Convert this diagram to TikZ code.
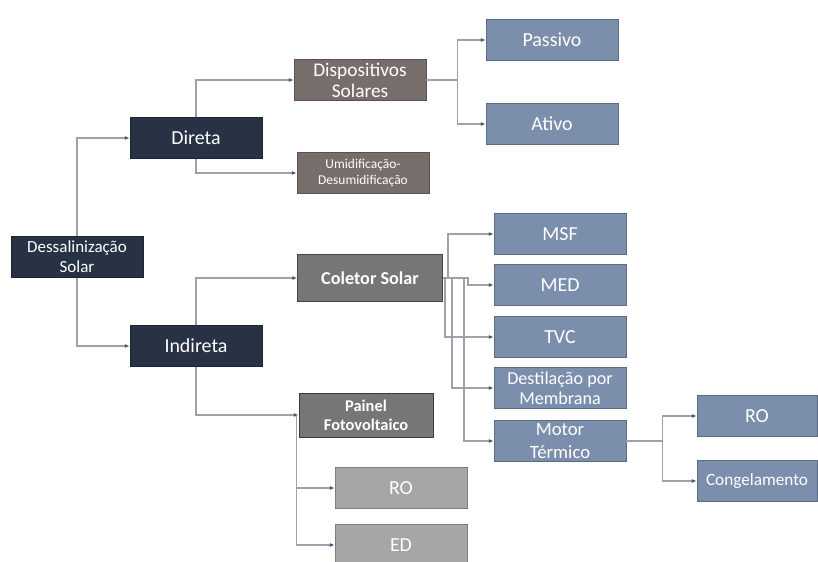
\documentclass[tikz,border=0pt]{standalone}
\usepackage{fontspec}
\setmainfont{Carlito}
\usetikzlibrary{arrows.meta}
\definecolor{navy}{HTML}{273245}
\definecolor{taupe}{HTML}{776E6B}
\definecolor{cinza}{HTML}{777575}
\definecolor{azul}{HTML}{7B8FAD}
\definecolor{claro}{HTML}{A8A5A5}
\definecolor{linha}{HTML}{9EA1AB}
\definecolor{ponta}{HTML}{4A5572}
\begin{document}
\begin{tikzpicture}[x=0.03cm,y=-0.03cm,
    box/.style={draw=#1!75!black,line width=0.8pt,fill=#1,text=white,align=center,
      minimum width=3.96cm,minimum height=1.23cm,inner sep=1pt,
      font=\fontsize{17}{18}\selectfont},
    link/.style={draw=linha,line width=0.9pt,-{Latex[length=4pt,width=3.5pt,color=ponta]}}]
    \useasboundingbox (0,0) rectangle (818,561);
    % niveis 1 e 2
    \node[box=navy,font=\fontsize{14.5}{17}\selectfont] (dess) at (77,257) {Dessalinização\\Solar};
    \node[box=navy] (dir) at (196,138) {Direta};
    \node[box=navy] (ind) at (196,346) {Indireta};
    % direta
    \node[box=taupe,font=\fontsize{16.5}{18}\selectfont] (disp) at (360,80) {Dispositivos\\Solares};
    \node[box=taupe,font=\fontsize{11.5}{13.5}\selectfont] (umid) at (363,173) {Umidificação-\\Desumidificação};
    \node[box=azul] (pas) at (552,40) {Passivo};
    \node[box=azul] (ati) at (552,124) {Ativo};
    % indireta
    \node[box=cinza,draw=cinza!60!black,minimum width=4.35cm,minimum height=1.4cm,font=\bfseries\fontsize{15.5}{17}\selectfont] (col) at (370,278) {Coletor Solar};
    \node[box=cinza,draw=cinza!50!black,minimum width=4.02cm,minimum height=1.32cm,font=\bfseries\fontsize{14}{16}\selectfont] (pain) at (366,415) {Painel\\Fotovoltaico};
    \node[box=azul] (msf) at (560,234) {MSF};
    \node[box=azul] (med) at (560,285) {MED};
    \node[box=azul] (tvc) at (560,337) {TVC};
    \node[box=azul,font=\fontsize{15.5}{17}\selectfont] (mem) at (560,388) {Destilação por\\Membrana};
    \node[box=azul,font=\fontsize{16}{20}\selectfont] (mot) at (560,441) {Motor\\Térmico};
    \node[box=azul,minimum width=3.6cm] (ro) at (757,416) {RO};
    \node[box=azul,minimum width=3.6cm,font=\fontsize{14.7}{17}\selectfont] (cong) at (757,481) {Congelamento};
    \node[box=claro] (rofv) at (401,488) {RO};
    \node[box=claro] (ed) at (401,545) {ED};
    % ligacoes
    \draw[link] (dess.north) |- (dir.west);
    \draw[link] (dess.south) |- (ind.west);
    \draw[link] (dir.north) |- (disp.west);
    \draw[link] (dir.south) |- (umid.west);
    \draw[link] (ind.north) |- (col.west);
    \draw[link] (ind.south) |- (pain.west);
    \draw[link] (disp.east) -- ++(31,0) |- (pas.west);
    \draw[link] (disp.east) -- ++(31,0) |- (ati.west);
    \draw[link] (col.east) -- ++(5,0) |- (msf.west);
    \draw[link] (col.east) -- ++(25,0) |- (med.west);
    \draw[link] (col.east) -- ++(2,0) |- (tvc.west);
    \draw[link] (col.east) -- ++(9,0) |- (mem.west);
    \draw[link] (col.east) -- ++(21,0) |- (mot.west);
    \draw[link] ([xshift=-0.06cm]pain.west) |- (rofv.west);
    \draw[link] ([xshift=-0.06cm]pain.west) |- (ed.west);
    \draw[link] (mot.east) -- ++(36,0) |- (ro.west);
    \draw[link] (mot.east) -- ++(36,0) |- (cong.west);
\end{tikzpicture}
\end{document}
